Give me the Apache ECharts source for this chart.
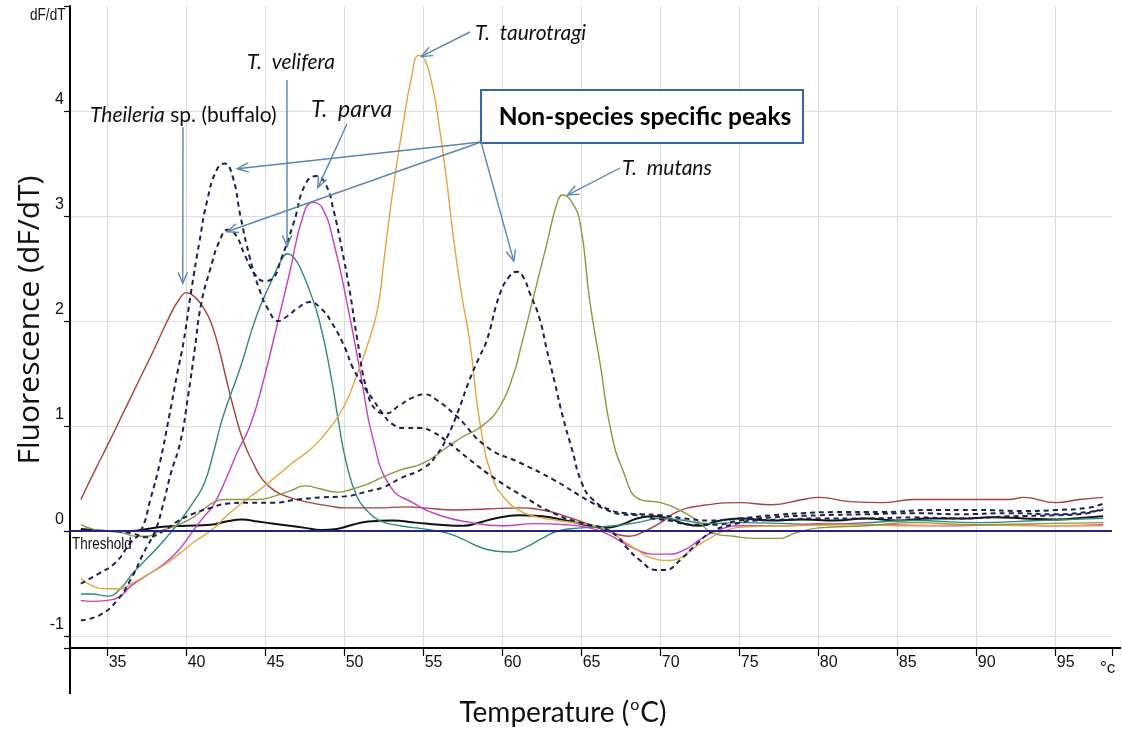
<!DOCTYPE html>
<html><head><meta charset="utf-8">
<script src="https://cdn.jsdelivr.net/npm/echarts@6/dist/echarts.min.js"></script>
<style>html,body{margin:0;padding:0;background:#fff}#c{width:1122px;height:731px}</style>
</head><body><div id="c"></div><script>
// ---- data: [temperature °C, dF/dT] ----
const buffaloSp = [[33.3,0.30],[34.2,0.58],[35,0.82],[36,1.13],[37,1.44],[38,1.75],[38.9,2.04],[39.5,2.2],[40,2.27],[40.5,2.23],[41,2.14],[41.5,2.0],[42,1.76],[42.5,1.45],[43,1.15],[43.6,0.85],[44.2,0.65],[44.8,0.49],[45.5,0.39],[46.3,0.33],[47.8,0.27],[49,0.24],[50,0.22],[52,0.22],[54,0.23],[55,0.22],[57,0.2],[59,0.21],[61,0.22],[62.5,0.2],[64,0.14],[65.5,0.06],[67,-0.02],[68,-0.05],[69,0.0],[70,0.08],[71,0.18],[72.5,0.24],[75,0.27],[77,0.25],[79,0.3],[80,0.32],[82,0.28],[84,0.27],[86,0.3],[88,0.3],[90,0.3],[92,0.3],[93,0.32],[95,0.27],[96.5,0.3],[98,0.32]];
const velifera = [[33.3,-0.6],[34,-0.6],[35,-0.62],[35.8,-0.55],[36.6,-0.4],[37.5,-0.26],[38.5,-0.1],[39.6,0.1],[40.4,0.27],[41.1,0.45],[41.7,0.75],[42.3,1.09],[43.4,1.56],[44.4,2.04],[45.3,2.36],[46.1,2.61],[46.4,2.64],[46.8,2.6],[47.2,2.5],[47.8,2.28],[48.4,2.0],[49.1,1.5],[49.6,1.05],[50.1,0.65],[50.8,0.32],[51.5,0.18],[52.2,0.1],[53.5,0.05],[55,0.02],[56.5,-0.02],[57.5,-0.08],[58.5,-0.15],[59.5,-0.19],[60.5,-0.2],[61.5,-0.15],[62.5,-0.07],[63.5,0.0],[65,0.03],[67,0.05],[68.5,0.08],[70,0.12],[71.5,0.1],[73,0.07],[75,0.08],[78,0.07],[80,0.06],[83,0.08],[86,0.1],[90,0.08],[94,0.1],[98,0.12]];
const parva = [[33.3,-0.66],[34,-0.67],[35,-0.66],[35.8,-0.62],[36.5,-0.52],[37.5,-0.42],[38.5,-0.32],[39.5,-0.18],[40.3,-0.02],[41,0.12],[41.7,0.25],[42.5,0.5],[43.2,0.75],[44,1.0],[44.8,1.4],[45.7,1.95],[46.5,2.45],[47.4,3.02],[48,3.13],[48.6,3.07],[49.3,2.75],[50.2,2.13],[51,1.5],[51.8,0.87],[52.9,0.42],[54.3,0.27],[56,0.15],[58,0.08],[60,0.05],[62,0.07],[64,0.06],[65.5,0.03],[66.5,-0.02],[67.5,-0.1],[68.5,-0.18],[69.5,-0.22],[70.5,-0.22],[71.5,-0.18],[72.5,-0.08],[73.5,0.0],[75,0.05],[78,0.05],[80,0.07],[84,0.06],[88,0.05],[92,0.06],[95,0.05],[98,0.06]];
const taurotragi = [[33.3,-0.45],[34,-0.52],[35,-0.55],[35.8,-0.55],[36.5,-0.5],[37.5,-0.42],[38.5,-0.33],[39.5,-0.22],[40.5,-0.1],[41.5,0.0],[42.5,0.14],[43.5,0.27],[44.5,0.38],[45.5,0.5],[46.7,0.65],[48,0.8],[49.1,0.99],[50,1.2],[50.8,1.5],[51.5,1.8],[52.1,2.13],[52.5,2.6],[52.9,3.08],[53.3,3.5],[53.7,3.88],[54.2,4.3],[54.7,4.53],[55.1,4.48],[55.5,4.27],[55.8,4.04],[56.4,3.4],[56.9,2.77],[57.4,2.25],[57.9,1.82],[58.6,0.99],[59.4,0.49],[60.2,0.3],[61,0.2],[62,0.14],[63.5,0.1],[65,0.07],[66.5,0.02],[67.5,-0.08],[68.5,-0.18],[69.5,-0.26],[70.5,-0.28],[71.3,-0.25],[72,-0.17],[73,-0.08],[74,0.0],[75.5,0.04],[78,0.05],[82,0.06],[86,0.05],[90,0.06],[94,0.05],[98,0.05]];
const mutans = [[33.3,0.06],[34,0.02],[35,0.0],[36,-0.02],[36.8,-0.05],[37.5,-0.05],[38.3,0.0],[39.3,0.05],[40.3,0.12],[41,0.2],[41.8,0.28],[42.5,0.3],[43.5,0.3],[44.5,0.3],[45.5,0.33],[46.5,0.38],[47.5,0.43],[48.5,0.4],[49.5,0.37],[50.5,0.4],[51.5,0.45],[52.5,0.52],[53.5,0.58],[55,0.65],[56.5,0.8],[57.5,0.9],[58.6,0.99],[59.8,1.18],[60.7,1.5],[61.1,1.72],[61.9,2.2],[62.8,2.74],[63.4,3.1],[63.8,3.2],[64.3,3.15],[64.9,2.93],[65.5,2.2],[66.2,1.56],[66.8,0.99],[67.6,0.58],[68.7,0.3],[70,0.27],[71.2,0.2],[72.3,0.1],[73.3,-0.02],[74.6,-0.05],[76,-0.07],[77.5,-0.07],[78.5,-0.02],[80,0.03],[83,0.05],[86,0.08],[90,0.06],[94,0.07],[98,0.08]];
const negative = [[33.3,0.02],[34,0.01],[35,0.0],[36.5,0.0],[37.5,0.02],[38.5,0.04],[40,0.05],[41.5,0.06],[42.5,0.09],[43.5,0.11],[44.5,0.09],[45.5,0.07],[46.5,0.05],[47.5,0.03],[48.5,0.01],[49.5,0.02],[50.5,0.06],[51.5,0.09],[53,0.1],[54.5,0.08],[56,0.06],[57.5,0.05],[58.5,0.08],[59.5,0.12],[61,0.15],[62.5,0.14],[64,0.1],[65.5,0.05],[66.5,0.03],[67.5,0.06],[68.5,0.12],[69.5,0.14],[70.5,0.12],[71.5,0.07],[72.5,0.05],[73.5,0.09],[75,0.12],[77,0.1],[79,0.11],[81,0.1],[83,0.12],[85,0.1],[87,0.12],[89,0.12],[91,0.13],[93,0.12],[95,0.11],[97,0.13],[98,0.14]];
const mixedA = [[33.3,-0.5],[34.5,-0.4],[35.5,-0.3],[36.4,-0.12],[37.1,0.0],[37.7,0.3],[38.3,0.65],[38.9,1.1],[39.4,1.5],[39.8,1.8],[40.3,2.3],[40.8,2.75],[41.3,3.15],[41.9,3.44],[42.4,3.5],[42.9,3.38],[43.4,3.0],[44.0,2.6],[44.6,2.3],[45.2,2.1],[45.8,2.0],[46.4,2.05],[47,2.12],[47.8,2.18],[48.5,2.12],[49.2,1.98],[50,1.75],[50.5,1.56],[51.2,1.38],[51.8,1.25],[52.4,1.12],[53,1.02],[53.8,0.98],[54.8,0.98],[55.5,0.95],[56.5,0.85],[57.9,0.68],[59.6,0.49],[61.3,0.33],[63.2,0.17],[64.9,0.08],[66.5,0.02],[67.3,-0.06],[67.8,-0.15],[68.7,-0.28],[69.7,-0.37],[70.3,-0.37],[71.2,-0.28],[72.3,-0.12],[73.3,0.0],[74.5,0.06],[76,0.1],[78,0.11],[80,0.12],[83,0.12],[86,0.13],[89,0.12],[92,0.14],[95,0.15],[97,0.17],[98,0.22]];
const mixedB = [[33.3,-0.85],[34.5,-0.8],[35.6,-0.66],[36.5,-0.45],[37.3,-0.2],[38.0,0.0],[38.5,0.25],[39.0,0.55],[39.6,0.85],[40.1,1.3],[40.5,1.72],[40.9,2.15],[41.5,2.5],[42.1,2.77],[42.6,2.87],[43.1,2.82],[43.7,2.62],[44.3,2.45],[44.9,2.38],[45.4,2.4],[46.0,2.6],[46.8,2.95],[47.5,3.3],[48.2,3.38],[48.8,3.3],[49.3,3.05],[49.8,2.7],[50.3,2.3],[50.8,1.82],[51.4,1.34],[52.0,1.15],[52.6,1.12],[53.5,1.2],[54.3,1.27],[55.1,1.3],[55.8,1.25],[57.1,1.09],[59,0.8],[61.1,0.65],[63.2,0.49],[65.3,0.3],[66.6,0.2],[67.5,0.16],[68.5,0.15],[69.5,0.12],[70.5,0.1],[72,0.06],[73.5,0.06],[75,0.1],[77,0.13],[80,0.15],[83,0.16],[86,0.17],[89,0.16],[92,0.17],[95,0.16],[97,0.18],[98,0.2]];
const mixedC = [[33.3,0.0],[35,0.0],[36.5,-0.02],[37.5,-0.06],[38.5,0.0],[39.5,0.1],[40.5,0.17],[41.5,0.22],[42.5,0.26],[44,0.27],[45.5,0.27],[47,0.3],[48.5,0.32],[50,0.33],[51.5,0.38],[52.5,0.42],[53.5,0.5],[55,0.6],[55.8,0.72],[56.5,0.9],[57.2,1.15],[57.9,1.44],[58.5,1.65],[59,1.82],[59.8,2.25],[60.4,2.42],[60.9,2.47],[61.3,2.42],[61.7,2.27],[62.3,2.04],[62.8,1.72],[63.3,1.41],[63.8,1.09],[64.4,0.77],[65,0.46],[65.7,0.3],[66.8,0.2],[67.8,0.17],[68.8,0.16],[70,0.15],[71.5,0.12],[73,0.1],[75,0.12],[77,0.15],[79,0.17],[81,0.18],[84,0.18],[87,0.2],[90,0.2],[93,0.19],[95,0.2],[97,0.22],[98,0.26]];
const thresholdValue = 0;
const xTicks = [35,40,45,50,55,60,65,70,75,80,85,90,95];
const yTicks = [-1,0,1,2,3,4];

const NARROW = "'Liberation Sans Narrow','Arial Narrow','Liberation Sans',sans-serif";
const HUMAN = "Lato,'Open Sans',sans-serif";
const ARROW = '#5a86b6';

function solid(name, data, color, w) {
  return {name, type:'line', data, smooth:0.5, symbol:'none',
    lineStyle:{color, width:w||1.4}, z:3, silent:true};
}
function dashed(name, data) {
  return {name, type:'line', data, smooth:0.5, symbol:'none',
    lineStyle:{color:'#1c2150', width:2, type:[5,4]}, z:4, silent:true};
}

const chart = echarts.init(document.getElementById('c'), null, {renderer:'canvas'});
const option = {
  animation:false,
  backgroundColor:'#fff',
  grid:{left:70, right:10, top:6, bottom:83, containLabel:false},
  xAxis:{type:'value', min:32.614, max:98.56, minInterval:5, maxInterval:5, splitNumber:13,
    axisLine:{onZero:false, lineStyle:{color:'#000', width:2}},
    axisTick:{show:true, length:8, inside:false, lineStyle:{color:'#000', width:1.2}},
    axisLabel:{formatter:v=>xTicks.includes(Math.round(v*1000)/1000)?String(v):'', align:'left', margin:7, padding:[0,0,0,1],
      fontFamily:NARROW, fontSize:16, color:'#111'},
    splitLine:{show:true, showMinLine:false, showMaxLine:false, lineStyle:{color:'#dddddd', width:1}}},
  yAxis:{type:'value', min:-1.114, max:5, minInterval:1, maxInterval:1, splitNumber:6,
    axisLine:{show:true, lineStyle:{color:'#000', width:2}},
    axisTick:{show:true, length:6, lineStyle:{color:'#000', width:1.2}},
    axisLabel:{formatter:v=>yTicks.includes(Math.round(v*1000)/1000)?String(v):'', margin:6, verticalAlign:'bottom', padding:[0,0,3,0],
      fontFamily:NARROW, fontSize:16, color:'#111'},
    splitLine:{show:true, showMinLine:false, showMaxLine:false, lineStyle:{color:'#dddddd', width:1}}},
  series:[
    {name:'Threshold', type:'line', data:[], markLine:{silent:true, symbol:['none','none'], label:{show:false},
      lineStyle:{color:'#24248c', width:2, type:'solid'}, data:[{yAxis:thresholdValue}]}, z:6},
    solid('Negative', negative, '#111', 2),
    solid('Theileria sp. (buffalo)', buffaloSp, '#a8403c'),
    solid('T. velifera', velifera, '#2f8a7e'),
    solid('T. parva', parva, '#c83ec0'),
    solid('T. taurotragi', taurotragi, '#e4a53e'),
    solid('T. mutans', mutans, '#8f963f'),
    dashed('Mixed A', mixedA),
    dashed('Mixed B', mixedB),
    dashed('Mixed C', mixedC)
  ]
};
chart.setOption(option);

const px = p => chart.convertToPixel({gridIndex:0}, p);
function arrow(p1, p2) {
  const ang = Math.atan2(p2[1]-p1[1], p2[0]-p1[0]);
  const L = 12, a = 0.4;
  const h1 = [p2[0]-L*Math.cos(ang-a), p2[1]-L*Math.sin(ang-a)];
  const h2 = [p2[0]-L*Math.cos(ang+a), p2[1]-L*Math.sin(ang+a)];
  return [
    {type:'polyline', shape:{points:[p1,p2]}, style:{stroke:ARROW, lineWidth:1.4, fill:null}, z:60, silent:true},
    {type:'polyline', shape:{points:[h1,p2,h2]}, style:{stroke:ARROW, lineWidth:1.4, fill:null}, z:60, silent:true}
  ];
}
function txt(x, y, text, font, extra, el) {
  return Object.assign({type:'text', x, y, z:70, silent:true,
    style:Object.assign({text, font, fill:'#111', textAlign:'left', textVerticalAlign:'middle'}, extra||{})}, el||{});
}
const boxAnchor = [481,142];
const g = [
  {type:'line', shape:{x1:70, y1:648, x2:70, y2:694}, style:{stroke:'#000', lineWidth:2}, z:50, silent:true},
  {type:'line', shape:{x1:1110, y1:648, x2:1121, y2:648}, style:{stroke:'#000', lineWidth:2}, z:50, silent:true},
  txt(30, 16, 'dF/dT', '16px '+NARROW, null, {scaleX:0.85}),
  txt(72, 545, 'Threshold', '16px '+NARROW, null, {scaleX:0.84}),
  txt(1100, 668, '°c', '17px '+NARROW),
  {type:'text', x:30, y:320, rotation:Math.PI/2, z:70, silent:true,
    style:{text:'Fluorescence (dF/dT)', font:"30px 'Open Sans',sans-serif", fill:'#111', textAlign:'center', textVerticalAlign:'middle'}},
  {type:'text', x:563, y:713, z:70, silent:true,
    style:{text:'{a|Temperature (}{s|o}{a|C)}', textAlign:'center', textVerticalAlign:'middle',
      rich:{a:{fontFamily:HUMAN, fontSize:28, fill:'#111', lineHeight:32},
            s:{fontFamily:HUMAN, fontSize:16, fill:'#111', verticalAlign:'top', lineHeight:32, padding:[0,1,0,1]}}}},
  {type:'text', x:90, y:115, z:70, silent:true,
    style:{text:'{i|Theileria}{n| sp. (buffalo)}', textVerticalAlign:'middle',
      rich:{i:{fontFamily:HUMAN, fontStyle:'italic', fontSize:21, fill:'#111'}, n:{fontFamily:HUMAN, fontSize:21, fill:'#111'}}}},
  txt(247, 62, 'T.  velifera', 'italic 21px '+HUMAN),
  txt(311, 110, 'T.  parva', 'italic 23px '+HUMAN),
  txt(475, 33, 'T.  taurotragi', 'italic 21px '+HUMAN),
  txt(622, 168, 'T.  mutans', 'italic 21px '+HUMAN),
  {type:'rect', shape:{x:481, y:90, width:322, height:53}, style:{fill:'#fff', stroke:'#3566ac', lineWidth:2}, z:55, silent:true},
  {type:'text', x:645, y:117, z:70, silent:true,
    style:{text:'Non-species specific peaks', font:'bold 24.5px '+HUMAN, fill:'#000', textAlign:'center', textVerticalAlign:'middle'}}
];
g.push(...arrow([183,127], px([39.75,2.36])));
g.push(...arrow([287,80], px([46.35,2.71])));
g.push(...arrow([347,124], px([48.3,3.27])));
g.push(...arrow([470,32], px([54.85,4.52])));
g.push(...arrow([620,168], px([64.1,3.2])));
g.push(...arrow(boxAnchor, px([43.2,3.45])));
g.push(...arrow(boxAnchor, px([42.55,2.85])));
g.push(...arrow(boxAnchor, px([60.7,2.57])));
chart.setOption({graphic:{elements:g}});
</script></body></html>
